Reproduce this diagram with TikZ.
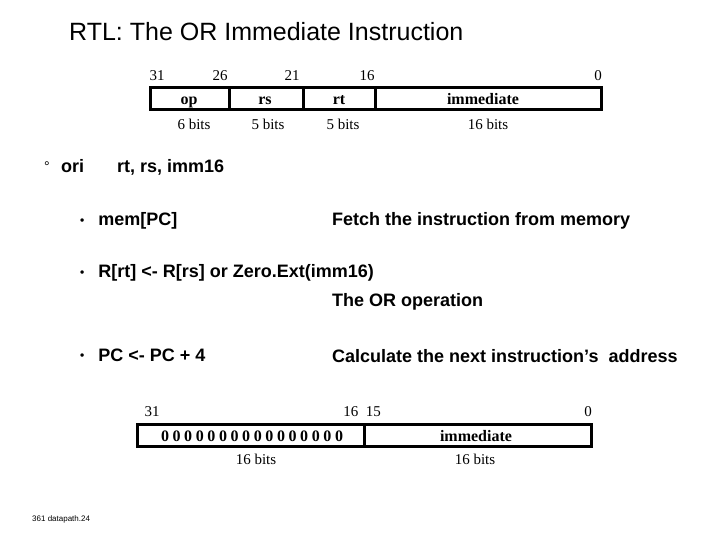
\documentclass[tikz,border=0pt]{standalone}
\usepackage{fontspec}
\setmainfont{Liberation Serif}
\setsansfont{Liberation Sans}
\newcommand{\smbul}{\raisebox{1.5pt}{\fontsize{12}{12}\selectfont\textbullet}\hspace{14pt}}
\begin{document}
\begin{tikzpicture}[x=1pt,y=-1pt,
  sf/.style={font=\sffamily\fontsize{18}{20}\selectfont\bfseries, inner sep=0pt},
  num/.style={font=\rmfamily\fontsize{15}{17}\selectfont, inner sep=0pt, anchor=base},
  fld/.style={font=\rmfamily\fontsize{16}{18}\selectfont\bfseries, inner sep=0pt, anchor=base},
  boxline/.style={draw=black, line width=3pt}]
\useasboundingbox (0,0) rectangle (720,540);
% title
\node[anchor=west, inner sep=0pt, font=\sffamily\fontsize{25}{27}\selectfont] (title) at (69,32) {RTL: The OR Immediate Instruction};
% top format
\draw[boxline] (150,88) rectangle (601,110);
\draw[boxline] (229,88) -- (229,110) (303,88) -- (303,110) (375,88) -- (375,110);
\node[num] (t31) at (157,81) {31};
\node[num] (t26) at (220,81) {26};
\node[num] (t21) at (292,81) {21};
\node[num] (t16) at (367,81) {16};
\node[num] (t0) at (598,81) {0};
\node[fld] (op) at (189,105) {op};
\node[fld] (rs) at (265,105) {rs};
\node[fld] (rt) at (339,105) {rt};
\node[fld] (imm) at (483,105) {immediate};
\node[num] (b6) at (194,130) {6 bits};
\node[num] (b5a) at (268,130) {5 bits};
\node[num] (b5b) at (343,130) {5 bits};
\node[num] (b16) at (488,130) {16 bits};
% ori
\node[anchor=base west, inner sep=0pt, font=\sffamily\fontsize{14}{16}\selectfont] (deg) at (44,172) {°};
\node[sf, anchor=base west] (ori) at (61,173) {ori};
\node[sf, anchor=base west] (args) at (117,173) {rt, rs, imm16};
% bullets
\node[sf, anchor=west] (l1) at (80,221) {\smbul mem[PC]};
\node[sf, anchor=west] (r1) at (332,221) {Fetch the instruction from memory};
\node[sf, anchor=west] (l2) at (80,273) {\smbul R[rt] <- R[rs] or Zero.Ext(imm16)};
\node[sf, anchor=west] (r2) at (332,302) {The OR operation};
\node[sf, anchor=west] (l3) at (80,355) {\smbul PC <- PC + 4};
\node[sf, anchor=west] (r3) at (332,356) {Calculate the next instruction’s\ \ address};
% bottom format
\draw[boxline] (137,424) rectangle (591,446);
\draw[boxline] (364,424) -- (364,446);
\node[num] (u31) at (152,416) {31};
\node[num] (u16) at (362,416) {16\ \ 15};
\node[num] (u0) at (588,416) {0};
\node[fld] (zeros) at (252,441) {0\hspace{3.6pt}0\hspace{3.6pt}0\hspace{3.6pt}0\hspace{3.6pt}0\hspace{3.6pt}0\hspace{3.6pt}0\hspace{3.6pt}0\hspace{3.6pt}0\hspace{3.6pt}0\hspace{3.6pt}0\hspace{3.6pt}0\hspace{3.6pt}0\hspace{3.6pt}0\hspace{3.6pt}0\hspace{3.6pt}0};
\node[fld] (imm2) at (476,441) {immediate};
\node[num] (c16a) at (256,464) {16 bits};
\node[num] (c16b) at (475,464) {16 bits};
% footer
\node[anchor=west, inner sep=0pt, font=\sffamily\fontsize{8}{9}\selectfont] (foot) at (32,519) {361 datapath.24};
\end{tikzpicture}
\end{document}
